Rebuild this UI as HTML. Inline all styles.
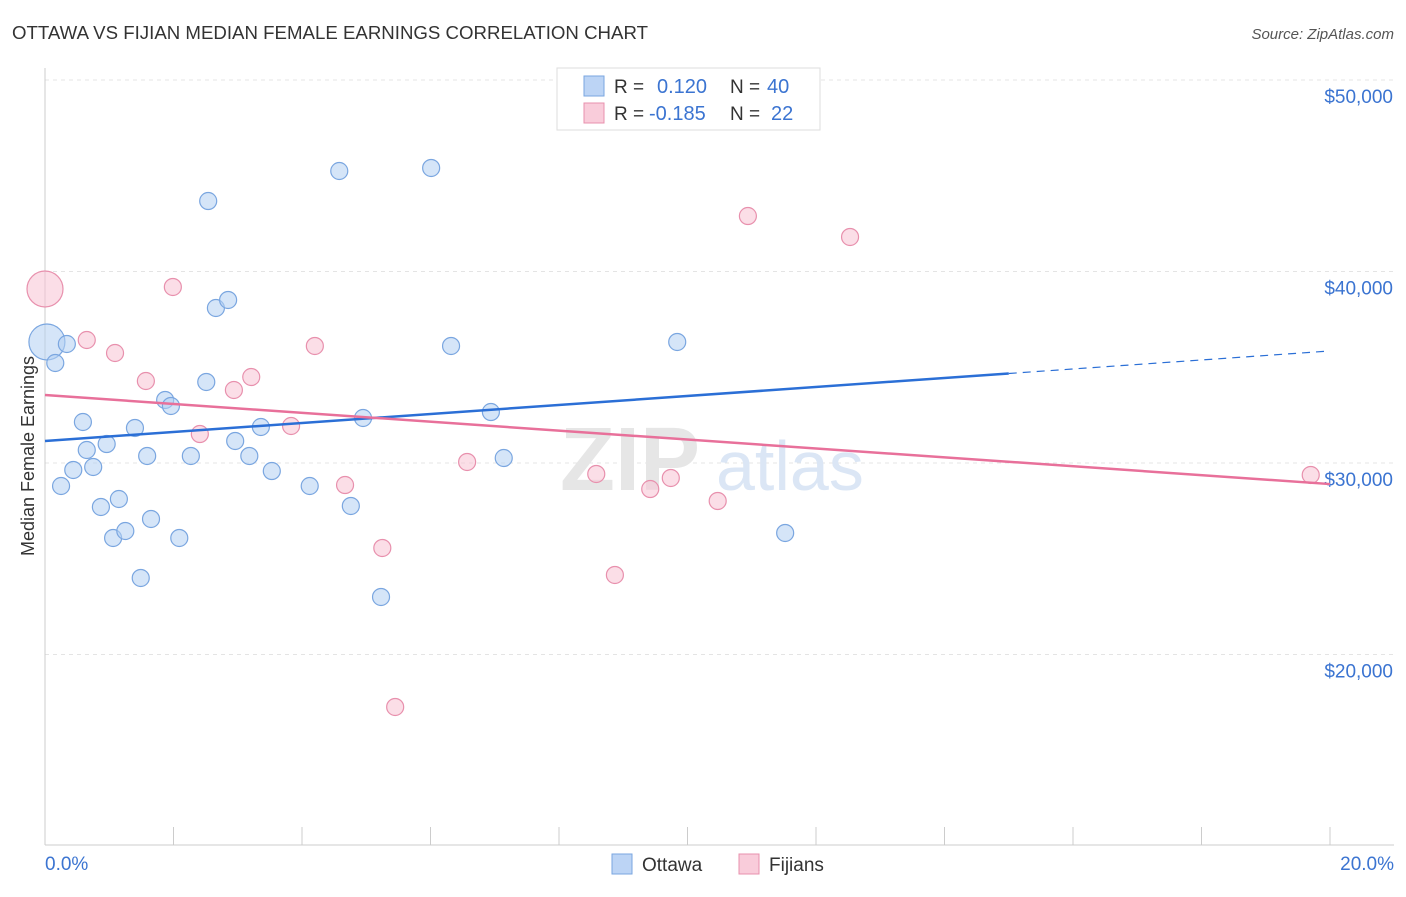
<!DOCTYPE html>
<html><head><meta charset="utf-8"><style>
body{margin:0;background:#fff;font-family:"Liberation Sans",sans-serif}
svg text{font-family:"Liberation Sans",sans-serif}
</style></head><body>
<svg id="chart" width="1406" height="892" viewBox="0 0 1406 892" xmlns="http://www.w3.org/2000/svg">
<text x="12" y="39" font-size="18" fill="#333" textLength="636" lengthAdjust="spacingAndGlyphs">OTTAWA VS FIJIAN MEDIAN FEMALE EARNINGS CORRELATION CHART</text>
<text x="1394" y="39" font-size="15" fill="#555" font-style="italic" text-anchor="end">Source: ZipAtlas.com</text>
<g id="grid"></g>
<g id="axes"></g>
<text x="700" y="490" font-size="90" fill="#e6e6e6" font-family="Liberation Serif" text-anchor="end" font-weight="bold">ZIP</text>
<text x="716" y="490" font-size="70" fill="#dbe6f5">atlas</text>
<g id="marks"></g>
<text transform="translate(34,456) rotate(-90)" font-size="18" fill="#333" text-anchor="middle">Median Female Earnings</text>
<g>
<rect x="557" y="68" width="263" height="62" fill="#fff" stroke="#ddd"/>
<rect x="584" y="76" width="20" height="20" fill="#bcd4f5" stroke="#7aa6e0"/>
<text x="614" y="93" font-size="19" fill="#333">R = </text><text x="657" y="93" font-size="20" fill="#3b74d1">0.120</text>
<text x="730" y="93" font-size="19" fill="#333">N = </text><text x="767" y="93" font-size="20" fill="#3b74d1">40</text>
<rect x="584" y="103" width="20" height="20" fill="#f9ccda" stroke="#e890ad"/>
<text x="614" y="120" font-size="19" fill="#333">R = </text><text x="649" y="120" font-size="20" fill="#3b74d1">-0.185</text>
<text x="730" y="120" font-size="19" fill="#333">N = </text><text x="771" y="120" font-size="20" fill="#3b74d1">22</text>
</g>
<g>
<rect x="612" y="854" width="20" height="20" fill="#bcd4f5" stroke="#7aa6e0"/>
<text x="642" y="871" font-size="19" fill="#333">Ottawa</text>
<rect x="739" y="854" width="20" height="20" fill="#f9ccda" stroke="#e890ad"/>
<text x="769" y="871" font-size="19" fill="#333">Fijians</text>
</g>
</svg>
<script>
const yTicks=[20000,30000,40000,50000];
const yTickLabels=["$20,000","$30,000","$40,000","$50,000"];
const xTickLabels=["0.0%","20.0%"];
const ottawaX=[0.03,0.34,0.16,0.59,0.65,0.96,0.44,0.75,0.25,0.87,1.15,1.06,1.25,1.40,1.59,1.65,1.49,1.87,1.96,2.09,2.27,2.51,2.54,2.66,2.85,2.96,3.18,3.36,3.53,4.12,4.58,4.76,4.95,5.23,6.01,6.32,6.94,7.14,9.84,11.52];
const ottawaY=[36319,36214,35222,32141,30679,30992,29635,29791,28799,27703,28120,26084,26449,31828,30366,27076,23995,33290,32977,26084,30366,34230,43681,38094,38512,31149,30366,31880,29582,28799,45248,27755,32350,23003,45405,36110,32663,30261,36319,26345];
const ottawaR=[18,8.5,8.5,8.5,8.5,8.5,8.5,8.5,8.5,8.5,8.5,8.5,8.5,8.5,8.5,8.5,8.5,8.5,8.5,8.5,8.5,8.5,8.5,8.5,8.5,8.5,8.5,8.5,8.5,8.5,8.5,8.5,8.5,8.5,8.5,8.5,8.5,8.5,8.5,8.5];
const fijiX=[0,0.65,1.09,1.57,1.99,2.41,2.94,3.21,3.83,4.20,4.67,5.25,5.45,6.57,8.58,8.87,9.42,9.74,10.47,10.94,12.53,19.70];
const fijiY=[39086,36423,35744,34282,39191,31514,33812,34491,31932,36110,28851,25562,17259,30053,29426,24152,28642,29217,28016,42898,41802,29374];
const fijiR=[18,8.5,8.5,8.5,8.5,8.5,8.5,8.5,8.5,8.5,8.5,8.5,8.5,8.5,8.5,8.5,8.5,8.5,8.5,8.5,8.5,8.5];
const ottawaTrend=[31150,35850];
const fijiTrend=[33550,28900];
const NS="http://www.w3.org/2000/svg";
const xs=v=>45+v/20*1285;
const ys=v=>80+(50000-v)/10000*191.5;
function mk(t,a,p){const e=document.createElementNS(NS,t);for(const k in a)e.setAttribute(k,a[k]);p.appendChild(e);return e;}
const grid=document.getElementById('grid'),axes=document.getElementById('axes'),marks=document.getElementById('marks');
yTicks.forEach((t,i)=>{
 const l=mk('line',{x1:45,x2:1394,y1:ys(t),y2:ys(t),stroke:'#e4e4e4','stroke-dasharray':'4,4'},grid);
 
 
 const tx=mk('text',{x:1393,y:ys(t)+23,'font-size':19,fill:'#3b74d1','text-anchor':'end'},axes);
 tx.textContent=yTickLabels[i];
 
 
});
mk('line',{x1:45,x2:45,y1:68,y2:845,stroke:'#ccc'},axes);
mk('line',{x1:45,x2:1394,y1:845,y2:845,stroke:'#ccc'},axes);
for(let i=0;i<=10;i++){const t=mk('line',{x1:xs(i*2),x2:xs(i*2),y1:827,y2:845,stroke:'#ccc'},axes);
 
 }
[[0,'start',45],[20,'end',1394]].forEach((d,i)=>{const t=mk('text',{x:d[2],y:870,'font-size':19,fill:'#3b74d1','text-anchor':d[1]},axes);t.textContent=xTickLabels[i];
 
 });
function dots(X,Y,R,fill,stroke,name){X.forEach((x,i)=>{const c=mk('circle',{cx:xs(x),cy:ys(Y[i]),r:R[i],fill:fill,'fill-opacity':0.55,stroke:stroke,'stroke-width':1.2},marks);
 
 });}
dots(ottawaX,ottawaY,ottawaR,'#b3cff3','#7aa6e0','ottawa-point');
dots(fijiX,fijiY,fijiR,'#f7c3d3','#e890ad','fijian-point');
const oy=x=>ottawaTrend[0]+(ottawaTrend[1]-ottawaTrend[0])*x/20;
const fy=x=>fijiTrend[0]+(fijiTrend[1]-fijiTrend[0])*x/20;
let l=mk('line',{x1:xs(0),y1:ys(oy(0)),x2:xs(15),y2:ys(oy(15)),stroke:'#2b6fd6','stroke-width':2.5},marks);


l=mk('line',{x1:xs(15),y1:ys(oy(15)),x2:xs(20),y2:ys(oy(20)),stroke:'#2b6fd6','stroke-width':1.2,'stroke-dasharray':'8,6'},marks);


l=mk('line',{x1:xs(0),y1:ys(fy(0)),x2:xs(20),y2:ys(fy(20)),stroke:'#e8709a','stroke-width':2.5},marks);


</script>
</body></html>
